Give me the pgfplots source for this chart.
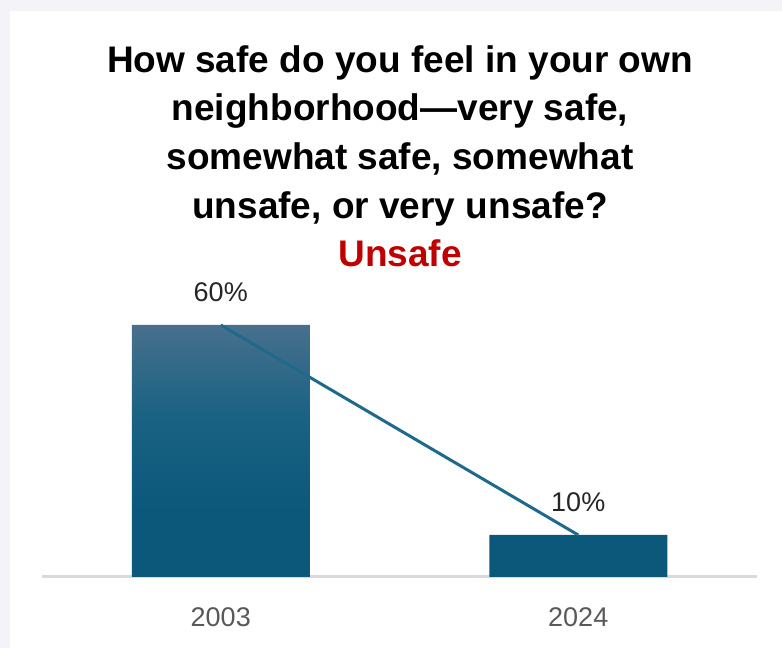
\documentclass[border=0pt]{standalone}
\usepackage{pgfplots}
\pgfplotsset{compat=1.18}
\usepackage{fontspec}
\setmainfont{Liberation Sans}
\definecolor{bg}{HTML}{F3F3F8}
\definecolor{bartop}{HTML}{47708D}
\definecolor{barmid}{HTML}{1A6283}
\definecolor{barbot}{HTML}{0B587B}
\definecolor{linecol}{HTML}{1F6A8C}
\definecolor{tickgray}{HTML}{595959}
\definecolor{lblcol}{HTML}{262626}
\definecolor{ured}{HTML}{C00000}
\definecolor{axisgray}{HTML}{D9D9D9}
\pgfdeclareverticalshading{barshade}{100bp}{color(0bp)=(barbot); color(25bp)=(barbot); color(38bp)=(barbot); color(57bp)=(barmid); color(75bp)=(bartop); color(100bp)=(bartop)}
\begin{document}
\begin{tikzpicture}[x=1pt,y=1pt]
\fill[bg] (0,0) rectangle (782,648);
\fill[white] (10,0) rectangle (782,637);
\begin{scope}[every node/.style={anchor=base, inner sep=0pt, font=\fontsize{37}{44}\selectfont\bfseries}]
\node at (400,575) {How safe do you feel in your own};
\node at (400,527) {neighborhood---very safe,};
\node at (400,478) {somewhat safe, somewhat};
\node at (400,429) {unsafe, or very unsafe?};
\node[text=ured] at (400,381) {Unsafe};
\end{scope}
\begin{axis}[
  at={(42pt,71pt)}, anchor=south west,
  scale only axis, width=715pt, height=252pt,
  xmin=-0.5, xmax=1.5, ymin=0, ymax=60,
  clip=false,
  axis x line=bottom, axis y line=none,
  x axis line style={draw=axisgray, line width=3pt, -},
  xtick={0,1}, xticklabels={2003,2024},
  major tick length=0pt,
  xticklabel style={anchor=base, yshift=-49pt, inner sep=0pt, text=tickgray, font=\fontsize{27}{32}\selectfont},
  ytick=\empty,
]
\addplot[ybar, bar width=178pt, draw=none, shading=barshade,
  point meta=explicit symbolic,
  nodes near coords,
  every node near coord/.style={anchor=base, yshift=23pt, inner sep=0pt, text=lblcol, font=\fontsize{27}{32}\selectfont}]
  coordinates {(0,60)[60\%] (1,10)[10\%]};
\addplot[sharp plot, color=linecol, line width=3pt, mark=none] coordinates {(0,60) (1,10)};
\end{axis}
\end{tikzpicture}
\end{document}
